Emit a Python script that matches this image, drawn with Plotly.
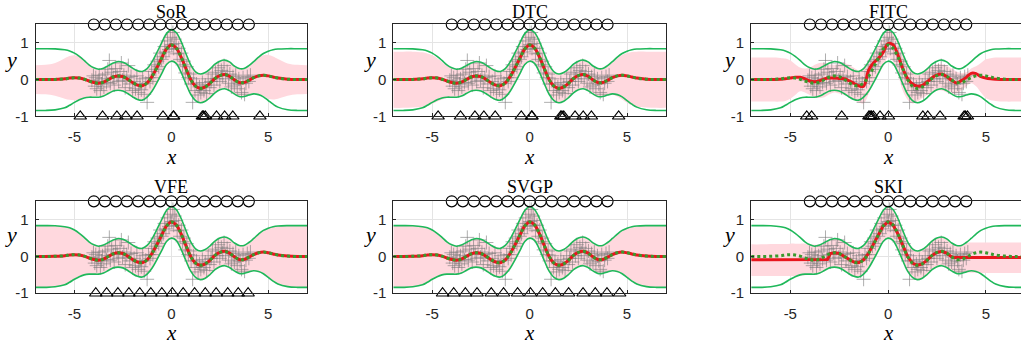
import plotly.graph_objects as go

# ---------------- data ----------------
TITLES = ["SoR", "DTC", "FITC", "VFE", "SVGP", "SKI"]
X_TICKS = [-5, 0, 5]
X_TICKTEXT = ["-5", "0", "5"]
Y_TICKS = [-1, 0, 1]
Y_TICKTEXT = ["-1", "0", "1"]

# observations (gray +)
DATA_X = [-4.10, -4.02, -3.95, -3.90, -3.85, -3.78, -3.72, -3.66, -3.60, -3.55, -3.48, -3.42, -3.35,
          -3.28, -3.20, -3.15, -3.08, -3.00, -2.95, -2.88, -2.80, -2.72, -2.65, -2.58, -2.52, -2.45,
          -2.38, -2.30, -2.22, -2.15, -2.08, -2.00, -1.92, -1.85, -1.78, -1.70, -1.62, -1.55, -1.48,
          -1.40, -1.32, -1.25, -1.18, -1.10, -1.02, -0.95, -0.88, -0.80, -0.72, -0.65, -0.58, -0.50,
          -0.42, -0.35, -0.28, -0.20, -0.12, -0.05, 0.02, 0.08, 0.12, 0.18, 0.25, 0.30, 0.38, 0.45,
          0.52, 0.58, 0.65, 0.72, 0.80, 0.88, 0.95, 1.02, 1.10, 1.15, 1.22, 1.30, 1.38, 1.45, 1.52,
          1.60, 1.68, 1.75, 1.82, 1.90, 1.98, 2.05, 2.12, 2.20, 2.28, 2.35, 2.42, 2.50, 2.58, 2.65,
          2.72, 2.80, 2.88, 2.95, 3.02, 3.10, 3.18, 3.25, 3.32, 3.40, 3.48, 3.55, 3.62, 3.70, 3.78,
          3.85, 3.92, 4.00, 4.08]
DATA_Y = [-0.02, 0.10, -0.18, 0.05, -0.25, -0.05, 0.12, -0.30, -0.12, 0.02, -0.20, 0.15, -0.08,
          0.28, 0.52, -0.10, 0.20, 0.05, -0.15, 0.30, 0.10, -0.05, 0.22, 0.45, -0.02, 0.12,
          -0.22, 0.05, 0.38, -0.12, 0.08, -0.30, -0.05, -0.25, 0.10, -0.35, -0.12, -0.28, 0.02,
          -0.40, -0.10, -0.62, 0.05, -0.05, 0.22, 0.05, 0.40, 0.28, 0.50, 0.35, 0.72, 0.55,
          0.62, 0.90, 0.75, 1.05, 0.82, 1.15, 0.95, 1.28, 0.85, 1.10, 0.98, 0.70, 0.85, 0.55,
          0.72, 0.40, 0.50, 0.18, 0.35, 0.05, 0.15, -0.12, -0.62, 0.02, -0.30, -0.12, -0.42, -0.20, -0.35,
          -0.08, -0.30, -0.15, -0.38, 0.02, -0.22, -0.05, 0.15, -0.15, 0.20, 0.02, 0.32, -0.05, 0.25, 0.10,
          0.38, 0.02, 0.22, -0.10, 0.15, -0.20, 0.08, -0.15, 0.12, -0.25, 0.02, -0.12, -0.35, 0.05, -0.40,
          -0.10, 0.08, -0.05, 0.12]

# evaluation grid
GRID_X = [-7, -6.5, -6, -5.5, -5.25, -5, -4.75, -4.5, -4.25, -4, -3.75, -3.5, -3.25, -3, -2.75, -2.5,
          -2.25, -2, -1.75, -1.5, -1.25, -1, -0.75, -0.5, -0.25, 0, 0.25, 0.5, 0.75, 1, 1.25, 1.5,
          1.75, 2, 2.25, 2.5, 2.75, 3, 3.25, 3.5, 3.75, 4, 4.25, 4.5, 4.75, 5, 5.25, 5.5, 6, 6.5, 7]

# full GP: mean, upper and lower bounds (green)
FULL_MEAN = [0.0, 0.0, 0.005, 0.02, 0.04, 0.05, 0.04, 0.01, -0.04, -0.08, -0.1, -0.07, 0.0, 0.07, 0.1, 0.08,
             0.01, -0.08, -0.15, -0.17, -0.09, 0.08, 0.32, 0.58, 0.83, 0.94, 0.86, 0.62, 0.3, 0.0, -0.18, -0.24,
             -0.2, -0.1, 0.03, 0.11, 0.14, 0.09, -0.01, -0.08, -0.08, -0.02, 0.05, 0.1, 0.12, 0.1, 0.07, 0.04,
             0.01, 0.0, 0.0]
FULL_UP = [0.84, 0.84, 0.835, 0.81, 0.78, 0.72, 0.63, 0.52, 0.40, 0.32, 0.28, 0.31, 0.38, 0.45, 0.49, 0.47,
           0.40, 0.31, 0.24, 0.22, 0.30, 0.48, 0.73, 1.00, 1.25, 1.36, 1.28, 1.04, 0.71, 0.40, 0.21, 0.15,
           0.19, 0.29, 0.42, 0.50, 0.53, 0.48, 0.37, 0.30, 0.30, 0.38, 0.49, 0.61, 0.71, 0.77, 0.81, 0.83,
           0.84, 0.84, 0.84]
FULL_LO = [-0.84, -0.84, -0.825, -0.77, -0.70, -0.62, -0.55, -0.50, -0.48, -0.48, -0.48, -0.45, -0.38, -0.31,
           -0.29, -0.31, -0.38, -0.47, -0.54, -0.56, -0.48, -0.32, -0.09, 0.16, 0.41, 0.50, 0.44, 0.20, -0.11,
           -0.40, -0.57, -0.63, -0.59, -0.49, -0.36, -0.28, -0.25, -0.30, -0.39, -0.46, -0.46, -0.42, -0.39,
           -0.41, -0.47, -0.57, -0.67, -0.75, -0.82, -0.84, -0.84]

# sparse approximations: bands (pink)
SOR_UP = [0.39, 0.40, 0.45, 0.58, 0.64, 0.66, 0.62, 0.52, 0.40, 0.31, 0.27, 0.30, 0.37, 0.44, 0.48, 0.46,
          0.39, 0.30, 0.23, 0.21, 0.29, 0.47, 0.72, 0.99, 1.24, 1.35, 1.27, 1.03, 0.70, 0.39, 0.20, 0.14,
          0.18, 0.28, 0.41, 0.49, 0.52, 0.47, 0.36, 0.29, 0.29, 0.36, 0.47, 0.59, 0.66, 0.67, 0.63, 0.56,
          0.44, 0.40, 0.39]
SOR_LO = [-0.39, -0.40, -0.44, -0.52, -0.55, -0.56, -0.54, -0.49, -0.47, -0.46, -0.46, -0.44, -0.37, -0.30,
          -0.28, -0.30, -0.37, -0.46, -0.53, -0.55, -0.47, -0.31, -0.08, 0.17, 0.42, 0.51, 0.45, 0.21, -0.10,
          -0.39, -0.56, -0.62, -0.58, -0.48, -0.35, -0.27, -0.24, -0.29, -0.38, -0.45, -0.45, -0.40, -0.37,
          -0.39, -0.45, -0.52, -0.54, -0.52, -0.44, -0.40, -0.39]
DTC_UP = [0.76, 0.76, 0.76, 0.74, 0.71, 0.66, 0.58, 0.48, 0.38, 0.31, 0.27, 0.30, 0.37, 0.44, 0.48, 0.46,
          0.39, 0.30, 0.23, 0.21, 0.29, 0.47, 0.72, 0.99, 1.24, 1.35, 1.27, 1.03, 0.70, 0.39, 0.20, 0.14,
          0.18, 0.28, 0.41, 0.49, 0.52, 0.47, 0.36, 0.29, 0.29, 0.37, 0.47, 0.58, 0.67, 0.72, 0.75, 0.76,
          0.76, 0.76, 0.76]
DTC_LO = [-0.77, -0.77, -0.76, -0.74, -0.71, -0.66, -0.60, -0.54, -0.50, -0.48, -0.47, -0.44, -0.37, -0.30,
          -0.28, -0.30, -0.37, -0.46, -0.53, -0.55, -0.47, -0.31, -0.08, 0.17, 0.42, 0.51, 0.45, 0.21, -0.10,
          -0.39, -0.56, -0.62, -0.58, -0.48, -0.35, -0.27, -0.24, -0.29, -0.38, -0.45, -0.45, -0.42, -0.41,
          -0.46, -0.54, -0.63, -0.70, -0.74, -0.76, -0.77, -0.77]
FITC_UP = [0.60, 0.60, 0.60, 0.59, 0.57, 0.52, 0.42, 0.33, 0.30, 0.32, 0.40, 0.45, 0.45, 0.42, 0.40, 0.42,
           0.45, 0.40, 0.32, 0.25, 0.30, 0.55, 0.75, 0.90, 1.15, 1.32, 1.25, 1.00, 0.70, 0.40, 0.20, 0.12,
           0.18, 0.28, 0.38, 0.42, 0.42, 0.38, 0.30, 0.22, 0.18, 0.20, 0.30, 0.36, 0.45, 0.55, 0.58, 0.60,
           0.60, 0.60, 0.60]
FITC_LO = [-0.60, -0.60, -0.60, -0.60, -0.58, -0.52, -0.42, -0.32, -0.35, -0.42, -0.48, -0.50, -0.48, -0.40,
           -0.35, -0.38, -0.42, -0.48, -0.55, -0.62, -0.65, -0.40, -0.05, 0.15, 0.35, 0.60, 0.50, 0.15, -0.30,
           -0.55, -0.65, -0.60, -0.50, -0.42, -0.35, -0.30, -0.30, -0.35, -0.40, -0.38, -0.30, -0.18, -0.10,
           -0.18, -0.35, -0.50, -0.56, -0.58, -0.60, -0.60, -0.60]
SKI_UP = [0.33, 0.33, 0.34, 0.34, 0.34, 0.35, 0.35, 0.35, 0.35, 0.34, 0.32, 0.33, 0.38, 0.45, 0.49, 0.47,
          0.40, 0.31, 0.24, 0.22, 0.30, 0.48, 0.73, 1.00, 1.25, 1.36, 1.28, 1.04, 0.71, 0.40, 0.21, 0.15,
          0.19, 0.29, 0.42, 0.50, 0.53, 0.48, 0.37, 0.30, 0.32, 0.37, 0.38, 0.38, 0.38, 0.38, 0.38, 0.38,
          0.38, 0.38, 0.38]
SKI_LO = [-0.53, -0.53, -0.53, -0.53, -0.53, -0.53, -0.53, -0.52, -0.51, -0.50, -0.49, -0.46, -0.38, -0.31,
          -0.29, -0.31, -0.38, -0.47, -0.54, -0.56, -0.48, -0.32, -0.09, 0.16, 0.41, 0.50, 0.44, 0.20, -0.11,
          -0.40, -0.57, -0.63, -0.59, -0.49, -0.36, -0.28, -0.25, -0.30, -0.39, -0.46, -0.46, -0.44, -0.44,
          -0.44, -0.45, -0.45, -0.45, -0.45, -0.45, -0.45, -0.45]

# sparse means (red)
FITC_MEAN = [0.0, 0.0, 0.0, 0.01, 0.02, 0.04, 0.06, 0.06, 0.02, -0.04, -0.06, -0.03, 0.02, 0.04, 0.04, 0.03,
             0.02, -0.03, -0.10, -0.17, -0.18, 0.25, 0.45, 0.57, 0.74, 0.98, 0.95, 0.68, 0.30, 0.03, -0.12,
             -0.18, -0.16, -0.06, 0.05, 0.13, 0.15, 0.08, -0.02, -0.09, -0.03, 0.06, 0.17, 0.16, 0.08, 0.04,
             0.02, 0.01, 0.0, 0.0, 0.0]
SKI_MEAN_X = [-7, -5, -3.1, -2.95, -2.75, -2.5, -2.25, -2, -1.75, -1.5, -1.25, -1, -0.75, -0.5, -0.25, 0,
              0.25, 0.5, 0.75, 1, 1.25, 1.5, 1.75, 2, 2.25, 2.5, 2.75, 3, 3.25, 3.4, 5, 7]
SKI_MEAN = [-0.09, -0.09, -0.08, 0.08, 0.10, 0.08, 0.01, -0.08, -0.15, -0.17, -0.09, 0.08, 0.32, 0.58, 0.83,
            0.94, 0.86, 0.62, 0.3, 0.0, -0.18, -0.24, -0.2, -0.1, 0.03, 0.11, 0.14, 0.09, -0.01, -0.03, -0.03,
            -0.03]

# inducing points: initial (circles) and optimised (triangles)
INIT_Z = [-4.0, -3.43, -2.86, -2.29, -1.71, -1.14, -0.57, 0.0, 0.57, 1.14, 1.71, 2.29, 2.86, 3.43, 4.0]
SOR_Z = [-4.70, -3.55, -2.81, -2.35, -1.77, -0.43, 0.10, 0.12, 1.60, 1.66, 1.75, 2.33, 2.75, 3.17, 4.57]
DTC_Z = SOR_Z
FITC_Z = [-4.16, -3.91, -2.37, -0.98, -0.92, -0.85, -0.75, -0.41, 0.02, 1.78, 2.03, 2.66, 3.89, 3.95, 4.06]
VFE_Z = [-3.90, -3.34, -2.76, -2.19, -1.63, -1.06, -0.49, 0.05, 0.61, 1.20, 1.75, 2.31, 2.91, 3.45, 3.96]
SVGP_Z = [-4.47, -3.90, -3.30, -2.70, -1.97, -1.34, -0.62, 0.04, 0.67, 1.32, 2.00, 2.74, 3.37, 3.97, 4.62]
SKI_Z = []

# ---------------- styling / layout ----------------
PINK = "#ffd8de"
GREEN = "#1fb85a"
DOT_GREEN = "#3a9a2e"
RED = "#e8161e"
GRAY = "rgba(120,120,120,0.6)"

W, H = 1021, 355


def px_x(p):
    return p / W


def px_y(p):
    return 1 - p / H


COL_DOM = [[px_x(35.7), px_x(307.0)], [px_x(393.3), px_x(666.0)], [px_x(751.2), 1.0]]
COL_RANGE = [[-7, 7], [-7, 7], [-7, 6.8]]
ROW_DOM = [[px_y(119), px_y(25)], [px_y(300), px_y(206)]]
TITLE_Y = [px_y(12.5), px_y(191)]
XLAB_Y = [px_y(161), px_y(341)]
YLAB_Y = [px_y(61), px_y(240)]
YLAB_X = [px_x(11), px_x(370), px_x(729)]

panels = [
    dict(lo=SOR_LO, up=SOR_UP, mx=GRID_X, m=FULL_MEAN, z=SOR_Z),
    dict(lo=DTC_LO, up=DTC_UP, mx=GRID_X, m=FULL_MEAN, z=DTC_Z),
    dict(lo=FITC_LO, up=FITC_UP, mx=GRID_X, m=FITC_MEAN, z=FITC_Z),
    dict(lo=FULL_LO, up=FULL_UP, mx=GRID_X, m=FULL_MEAN, z=VFE_Z),
    dict(lo=FULL_LO, up=FULL_UP, mx=GRID_X, m=FULL_MEAN, z=SVGP_Z),
    dict(lo=SKI_LO, up=SKI_UP, mx=SKI_MEAN_X, m=SKI_MEAN, z=SKI_Z),
]

fig = go.Figure()
layout = dict(width=W, height=H, autosize=False, margin=dict(l=0, r=0, t=0, b=0, pad=0),
              paper_bgcolor="white", plot_bgcolor="white", showlegend=False)
annotations = []
SERIF = "Liberation Serif, Times New Roman, serif"

for i, p in enumerate(panels):
    k = i + 1
    row, col = divmod(i, 3)
    xa = "x" if k == 1 else f"x{k}"
    ya = "y" if k == 1 else f"y{k}"
    common = dict(xaxis=xa, yaxis=ya, showlegend=False, hoverinfo="skip")
    # pink band
    fig.add_trace(go.Scatter(x=GRID_X, y=p["up"], mode="lines", line=dict(width=0, shape="spline"), **common))
    fig.add_trace(go.Scatter(x=GRID_X, y=p["lo"], mode="lines", line=dict(width=0, shape="spline"),
                             fill="tonexty", fillcolor=PINK, **common))
    # observations
    fig.add_trace(go.Scatter(x=DATA_X, y=DATA_Y, mode="markers",
                             marker=dict(symbol="cross-thin-open", size=10, color=GRAY,
                                         line=dict(width=1, color=GRAY)),
                             **common))
    # full GP bounds
    for b in (FULL_UP, FULL_LO):
        fig.add_trace(go.Scatter(x=GRID_X, y=b, mode="lines",
                                 line=dict(color=GREEN, width=1.6, shape="spline"), **common))
    # sparse mean
    fig.add_trace(go.Scatter(x=p["mx"], y=p["m"], mode="lines",
                             line=dict(color=RED, width=3, shape="spline" if k != 6 else "linear"), **common))
    # full GP mean (dotted)
    fig.add_trace(go.Scatter(x=GRID_X, y=FULL_MEAN, mode="lines",
                             line=dict(color=DOT_GREEN, width=3, dash="dot", shape="spline"), **common))
    # inducing points
    fig.add_trace(go.Scatter(x=INIT_Z, y=[1.5] * len(INIT_Z), mode="markers", cliponaxis=False,
                             marker=dict(symbol="circle-open", size=11, color="black",
                                         line=dict(width=1.1, color="black")), **common))
    if p["z"]:
        fig.add_trace(go.Scatter(x=p["z"], y=[-1] * len(p["z"]), mode="markers", cliponaxis=False,
                                 marker=dict(symbol="triangle-up-open", size=11, color="black",
                                             line=dict(width=1.1, color="black")), **common))

    axis_common = dict(showline=True, linecolor="#262626", linewidth=1, showgrid=True,
                       gridcolor="#e4e4e4", gridwidth=1, zeroline=False, ticks="inside", ticklen=3,
                       tickcolor="#262626", tickfont=dict(family="Liberation Sans, Arial", size=15,
                                                          color="#262626"))
    layout["xaxis" if k == 1 else f"xaxis{k}"] = dict(
        domain=COL_DOM[col], range=COL_RANGE[col], anchor=ya, tickvals=X_TICKS, ticktext=X_TICKTEXT,
        mirror=True, ticklabelstandoff=7, **axis_common)
    layout["yaxis" if k == 1 else f"yaxis{k}"] = dict(
        domain=ROW_DOM[row], range=[-1, 1.5], anchor=xa, tickvals=Y_TICKS, ticktext=Y_TICKTEXT,
        mirror=(col != 2), ticklabelstandoff=3, **axis_common)

    annotations.append(dict(text=TITLES[i], xref=xa, yref="paper", x=0, y=TITLE_Y[row],
                            showarrow=False, xanchor="center", yanchor="middle",
                            font=dict(family=SERIF, size=18, color="black")))
    annotations.append(dict(text="<i>x</i>", xref=xa, yref="paper", x=0, y=XLAB_Y[row],
                            showarrow=False, xanchor="center", yanchor="middle",
                            font=dict(family=SERIF, size=21, color="black")))
    annotations.append(dict(text="<i>y</i>", xref="paper", yref="paper", x=YLAB_X[col], y=YLAB_Y[row],
                            showarrow=False, xanchor="center", yanchor="middle",
                            font=dict(family=SERIF, size=22, color="black")))

layout["annotations"] = annotations
fig.update_layout(**layout)
# the page body has a default 8px margin; remove it so the figure fills the window exactly
fig.write_html("out.html", config={"displayModeBar": False, "staticPlot": True},
               post_script="document.body.style.margin='0px';")
